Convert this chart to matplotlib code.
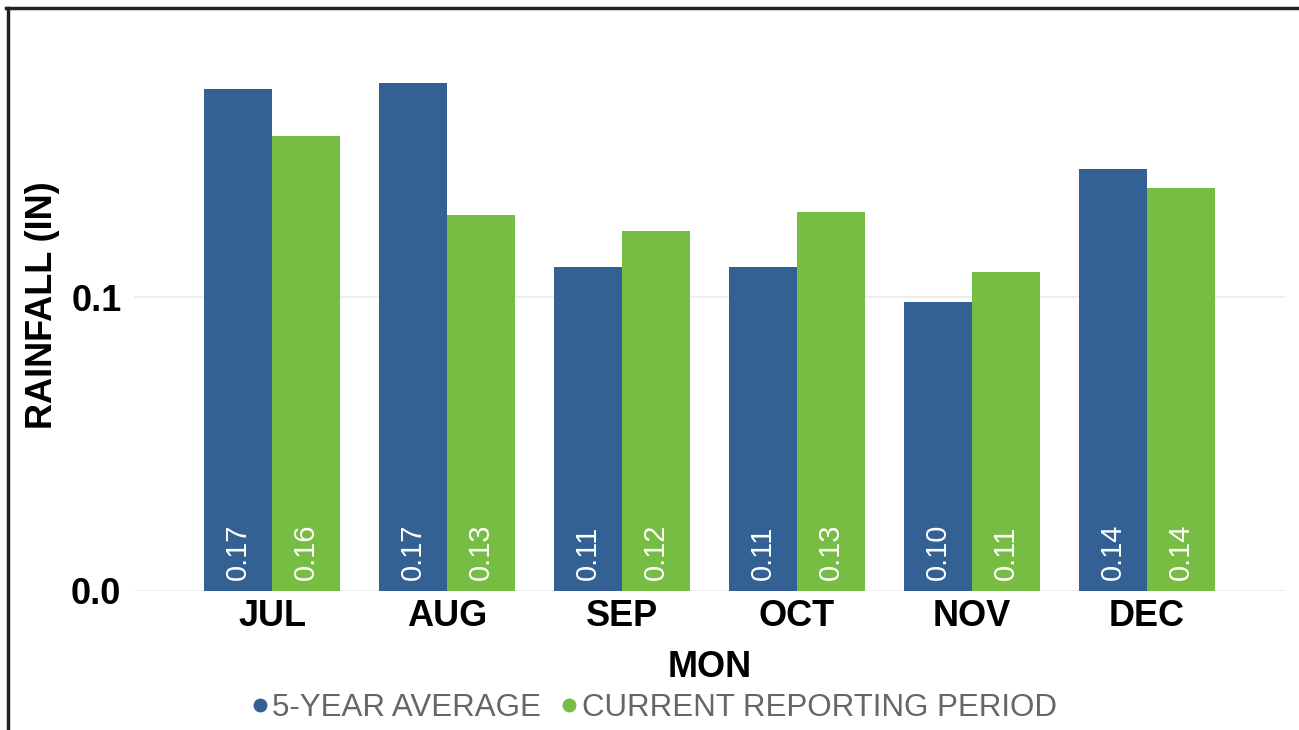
import matplotlib
matplotlib.use("Agg")
import matplotlib.pyplot as plt
from matplotlib.lines import Line2D
import numpy as np

months = ["JUL", "AUG", "SEP", "OCT", "NOV", "DEC"]
five_year_avg = [0.1707, 0.1728, 0.1102, 0.1102, 0.0983, 0.1435]
current_period = [0.1548, 0.1279, 0.1224, 0.1289, 0.1085, 0.1371]
avg_labels = ["0.17", "0.17", "0.11", "0.11", "0.10", "0.14"]
cur_labels = ["0.16", "0.13", "0.12", "0.13", "0.11", "0.14"]
series_names = ["5-YEAR AVERAGE", "CURRENT REPORTING PERIOD"]
yticks = [0.0, 0.1]

BLUE = "#336194"
GREEN = "#77BD43"

plt.rcParams['font.family'] = ['Liberation Sans', 'DejaVu Sans']

W, H = 1299, 730
fig = plt.figure(figsize=(W / 100, H / 100), dpi=100)
ax = fig.add_axes([134 / W, (730 - 591) / H, (1285 - 134) / W, (591 - 20) / H])

x = np.arange(len(months))
bw = 68 / 175
b1 = ax.bar(x - bw / 2, five_year_avg, width=bw, color=BLUE, zorder=2)
b2 = ax.bar(x + bw / 2, current_period, width=bw, color=GREEN, zorder=2)

for bars, labels in ((b1, avg_labels), (b2, cur_labels)):
    for rect, lab in zip(bars, labels):
        ax.annotate(lab, (rect.get_x() + rect.get_width() / 2, 0),
                    xytext=(0, 11), textcoords="offset pixels",
                    rotation=90, ha="center", va="bottom",
                    color="white", fontsize=21, zorder=3)

ax.set_xlim(-0.789, 5.789)
ax.set_ylim(0, (591 - 20) / 2940)
ax.set_xticks(x)
ax.set_xticklabels(months, fontsize=26, fontweight="bold")
ax.set_yticks(yticks)
ax.set_yticklabels([f"{v:.1f}" for v in yticks], fontsize=26, fontweight="bold")
ax.tick_params(axis="both", length=0)
ax.tick_params(axis="x", pad=6)
ax.tick_params(axis="y", pad=9)
ax.grid(axis="y", color="#ebebeb", linewidth=1.2, zorder=0)
for s in ax.spines.values():
    s.set_visible(False)

ax.set_xlabel("MON", fontsize=26, fontweight="bold", labelpad=11)
ax.set_ylabel("RAINFALL (IN)", fontsize=26, fontweight="bold", labelpad=8)

handles = [Line2D([], [], marker="o", linestyle="none", color=BLUE, markersize=9),
           Line2D([], [], marker="o", linestyle="none", color=GREEN, markersize=9)]
leg = fig.legend(handles, series_names, loc="center", bbox_to_anchor=(652 / W, 1 - 708 / H),
                 ncol=2, frameon=False, fontsize=22.5, handletextpad=0.0,
                 columnspacing=0.5, handlelength=0.8, borderpad=0)
for t in leg.get_texts():
    t.set_color("#666666")

# outer frame (left and top)
fig.add_artist(Line2D([7.5 / W, 7.5 / W], [0, 1 - 7.5 / H], transform=fig.transFigure,
                      color="#222222", linewidth=2.5))
fig.add_artist(Line2D([6.3 / W, 1], [1 - 7.5 / H, 1 - 7.5 / H], transform=fig.transFigure,
                      color="#222222", linewidth=2.5))

fig.savefig("out.png", dpi=100, facecolor="white")
